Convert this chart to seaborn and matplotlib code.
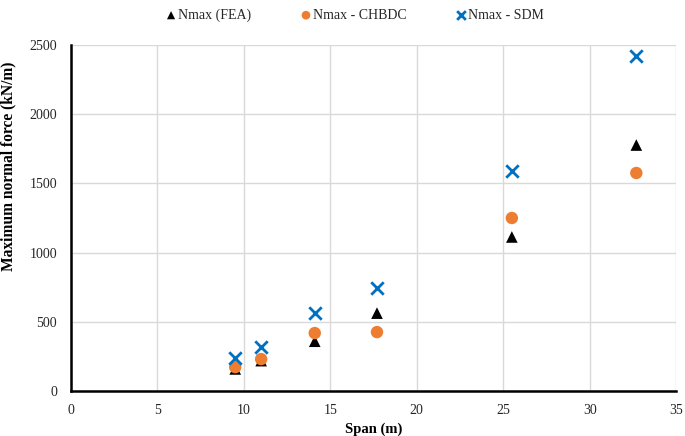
import matplotlib
matplotlib.use("Agg")
import matplotlib.pyplot as plt
import seaborn as sns
import pandas as pd

span = [9.5, 11.0, 14.1, 17.7, 25.5, 32.7]
n_fea = [160, 220, 360, 563, 1113, 1777]
n_chbdc = [173, 231, 419, 426, 1250, 1575]
n_sdm = [238, 318, 563, 744, 1590, 2420]

x_ticks = [0, 5, 10, 15, 20, 25, 30, 35]
y_ticks = [0, 500, 1000, 1500, 2000, 2500]

sns.set_theme(style="whitegrid")
plt.rcParams['font.family'] = ['Liberation Serif', 'DejaVu Serif']

fig = plt.figure(figsize=(6.85, 4.36), dpi=100)
ax = fig.add_axes([0.1036, 0.103, 0.8834, 0.794])

df_fea = pd.DataFrame({"x": span, "y": n_fea})
df_ch = pd.DataFrame({"x": span, "y": n_chbdc})
df_sdm = pd.DataFrame({"x": span, "y": n_sdm})

sns.scatterplot(data=df_fea, x="x", y="y", ax=ax, marker="^", color="black",
                s=70, edgecolor="none", label="Nmax (FEA)", zorder=3)
sns.scatterplot(data=df_ch, x="x", y="y", ax=ax, marker="o", color="#ED7D31",
                s=80, edgecolor="none", label="Nmax - CHBDC", zorder=4)
sns.scatterplot(data=df_sdm, x="x", y="y", ax=ax, marker="x", color="#0070C0",
                s=80, linewidth=2, label="Nmax - SDM", zorder=5)

ax.set_xlim(0, 35)
ax.set_ylim(0, 2500)
ax.set_xticks(x_ticks)
ax.set_yticks(y_ticks)
ax.tick_params(axis='both', labelsize=10, colors='#262626', length=0)
ax.tick_params(axis='y', pad=10)
ax.tick_params(axis='x', pad=9)
ax.set_xlabel("Span (m)", fontsize=10.5, fontweight='bold', color='black')
ax.set_ylabel("Maximum normal force (kN/m)", fontsize=11.2, fontweight='bold', color='black')
ax.yaxis.set_label_coords(-0.091, 0.65)

ax.grid(True, color='#d9d9d9', linewidth=1)
for s in ['top', 'right']:
    ax.spines[s].set_visible(False)
for s in ['left', 'bottom']:
    ax.spines[s].set_visible(True)
    ax.spines[s].set_color('black')
    ax.spines[s].set_linewidth(1.8)

leg = ax.legend(loc='lower center', bbox_to_anchor=(0.468, 1.03), ncol=3, frameon=False,
                fontsize=10, handletextpad=0.0, columnspacing=3.45, markerscale=0.7,
                handlelength=1.0)

fig.savefig("out.png", dpi=100)
